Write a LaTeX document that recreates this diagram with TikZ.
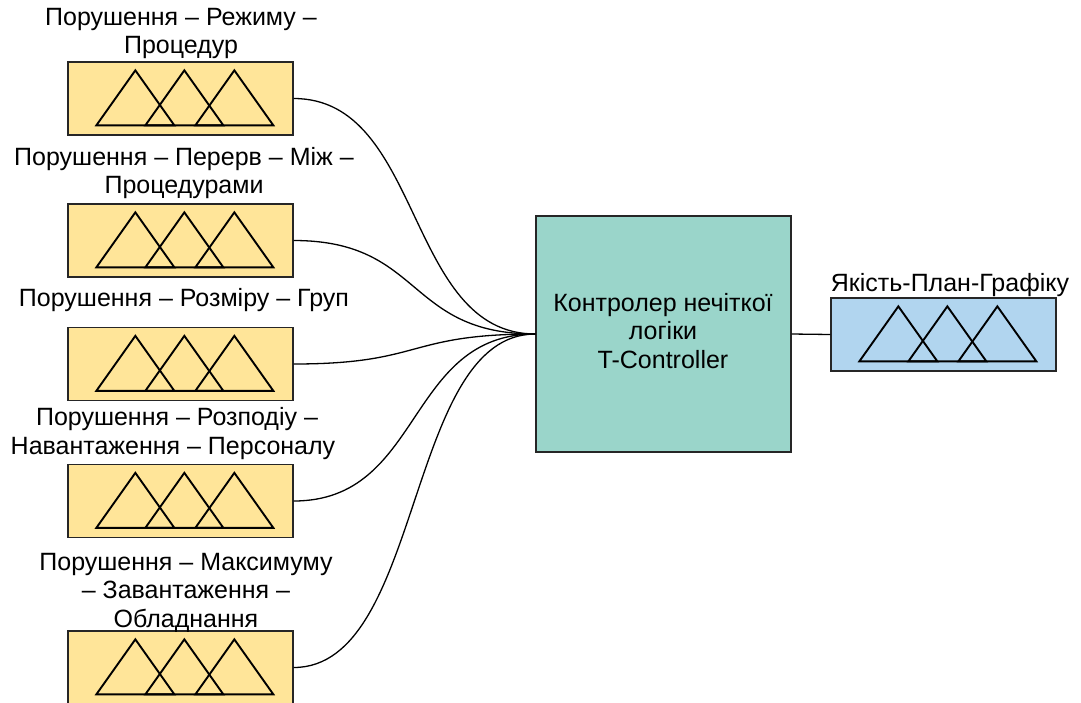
\documentclass[tikz,border=0pt]{standalone}
\usepackage{fontspec}
\setmainfont{Liberation Sans}
\definecolor{inyellow}{HTML}{FFE599}
\definecolor{ctrlteal}{HTML}{9AD5CA}
\definecolor{outblue}{HTML}{B1D5EF}
\begin{document}
\begin{tikzpicture}[x=1pt,y=-1pt,
  inbox/.style={draw=black!85,line width=1.3pt,fill=inyellow,minimum width=225pt,minimum height=73pt,inner sep=0pt},
  outbox/.style={draw=black!85,line width=1.3pt,fill=outblue,minimum width=225pt,minimum height=73pt,inner sep=0pt},
  ctrlbox/.style={draw=black!85,line width=1.3pt,fill=ctrlteal,minimum width=255pt,minimum height=236pt,inner sep=0pt},
  lbl/.style={font=\fontsize{25}{28.5}\selectfont,align=center,anchor=base,inner sep=0pt},
  conn/.style={draw=black,line width=1.3pt},
  mf/.pic={
    \foreach \s in {29,78,128}{
      \draw[line width=1.9pt,line join=miter] (\s,64) -- (\s+39,9) -- (\s+78,64) -- cycle;
    }
  }
]
\useasboundingbox (0,0) rectangle (1081,702);

% input boxes
\node[inbox] (in1) at (180.5,98.5) {};
\node[inbox] (in2) at (180.5,240.5) {};
\node[inbox] (in3) at (180.5,364) {};
\node[inbox] (in4) at (180.5,501) {};
\node[inbox] (in5) at (180.5,667.5) {};
\foreach \n in {in1,in2,in3,in4,in5}{
  \path (\n.north west) pic {mf};
}

% controller and output
\node[ctrlbox] (ctrl) at (663.5,334) {};
\node[lbl] (ctrltext) at (663,368) {Контролер нечіткої\\логіки\\T-Controller};
\node[outbox] (out) at (943.5,334.5) {};
\path (out.north west) pic {mf};

% labels
\node[lbl] (l1) at (181,53.5) {Порушення – Режиму –\\Процедур};
\node[lbl] (l2) at (184,193.5) {Порушення – Перерв – Між –\\Процедурами};
\node[lbl] (l3) at (184,306) {Порушення – Розміру – Груп};
\node[lbl] (l4) at (173,454) {\hspace*{8pt}Порушення – Розподіу –\\Навантаження – Персоналу};
\node[lbl] (l5) at (186,627) {Порушення – Максимуму\\– Завантаження –\\Обладнання};
\node[lbl] (lo) at (950,291) {Якість-План-Графіку};

% connectors
\coordinate (hub) at (ctrl.west);
\foreach \n in {in1,in2,in3,in4,in5}{
  \draw[conn] (\n.east) .. controls ([xshift=130pt]\n.east) and ([xshift=-130pt]hub) .. (hub);
}
\draw[conn] (ctrl.east) -- (out.west);
\end{tikzpicture}
\end{document}
